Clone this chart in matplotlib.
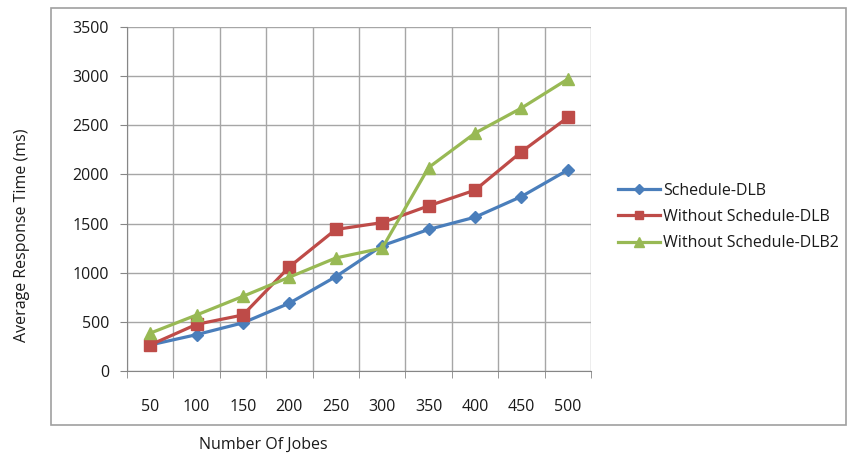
import matplotlib.pyplot as plt
import matplotlib.patches as mpatches
import numpy as np

plt.rcParams['font.family'] = ['Open Sans', 'DejaVu Sans']

jobs = ['50', '100', '150', '200', '250', '300', '350', '400', '450', '500']
schedule_dlb = [265, 370, 490, 690, 960, 1275, 1440, 1565, 1775, 2045]
without_dlb = [265, 475, 570, 1060, 1440, 1510, 1680, 1840, 2230, 2580]
without_dlb2 = [385, 570, 760, 955, 1150, 1250, 2070, 2420, 2675, 2970]

fig = plt.figure(figsize=(8.48, 4.54), dpi=100)
ax = fig.add_axes([127/848, 1-371/454, (591-127)/848, (371-27)/454])

# outer chart border (Excel style)
fig.patches.append(mpatches.Rectangle((51/848, 1-425/454), (846-51)/848, (425-8)/454,
                                      transform=fig.transFigure, fill=False,
                                      edgecolor='#a0a0a0', linewidth=1.2))

x = np.arange(len(jobs))
ax.plot(x, schedule_dlb, color='#4a7ebb', lw=2.3, marker='D', ms=6.5, label='Schedule-DLB', zorder=3)
ax.plot(x, without_dlb, color='#be4b48', lw=2.3, marker='s', ms=8, label='Without Schedule-DLB', zorder=3)
ax.plot(x, without_dlb2, color='#98b954', lw=2.3, marker='^', ms=8.5, label='Without Schedule-DLB2', zorder=3)

ax.set_xlim(-0.5, 9.5)
ax.set_ylim(0, 3500)
ax.set_yticks(range(0, 3501, 500))
ax.set_xticks(x)
ax.set_xticklabels(jobs)
ax.set_xticks(np.arange(-0.5, 10, 1), minor=True)

ax.grid(True, axis='y', which='major', color='#a6a6a6', lw=1)
ax.grid(True, axis='x', which='minor', color='#a6a6a6', lw=1)
ax.set_axisbelow(True)

ax.tick_params(axis='x', which='major', length=0, pad=20, labelsize=11.5, colors='#1a1a1a')
ax.tick_params(axis='x', which='minor', length=5, color='#868686', direction='out')
ax.tick_params(axis='y', which='major', length=5, color='#868686', pad=8, labelsize=11.5, labelcolor='#1a1a1a')

for side in ['left', 'bottom']:
    ax.spines[side].set_color('#868686')
for side in ['top', 'right']:
    ax.spines[side].set_visible(False)

fig.text(22/848, 1-235/454, 'Average Response Time (ms)', rotation=90,
         ha='center', va='center', fontsize=11.5, color='#1a1a1a')
fig.text(263/848, 1-445/454, 'Number Of Jobes', ha='center', va='center',
         fontsize=11.5, color='#1a1a1a')

ax.legend(loc='center left', bbox_to_anchor=(604/848, 1-217/454), bbox_transform=fig.transFigure,
          frameon=False, fontsize=11.5, handlelength=2.6, handletextpad=0.2, labelspacing=0.65,
          markerscale=0.8, labelcolor='#1a1a1a')

fig.savefig('out.png', dpi=100)
